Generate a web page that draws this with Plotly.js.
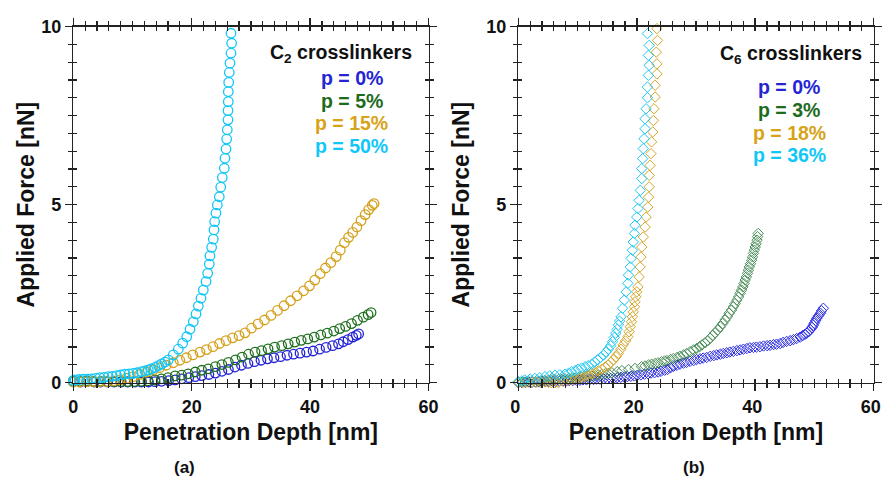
<!DOCTYPE html>
<html><head><meta charset="utf-8">
<script src="https://cdn.plot.ly/plotly-3.0.1.min.js"></script>
<style>html,body{margin:0;padding:0;background:#fff;} #chart{width:882px;height:477px;}</style>
</head><body><div id="chart"></div>
<script>
// ---------- Panel (a): C2 crosslinkers (circles) ----------
const a_labels = ["p = 0%", "p = 5%", "p = 15%", "p = 50%"];
const a_p0_x = [0,1.2,2.3,3.5,4.6,5.8,6.9,8.1,9.2,10.4,11.5,12.7,13.8,14.9,16.1,17.2,18.3,19.5,20.6,21.7,22.9,24.0,25.1,26.2,27.3,28.4,29.5,30.6,31.7,32.8,33.9,35.0,36.1,37.2,38.3,39.4,40.5,41.6,42.7,43.8,44.8,45.6,46.4,47.2,47.8,48.2];
const a_p0_y = [0.03,0.02,0.03,0.02,0.02,0.02,0.02,0.02,0.02,0.02,0.02,0.02,0.03,0.04,0.06,0.08,0.11,0.14,0.17,0.20,0.23,0.27,0.32,0.37,0.44,0.49,0.54,0.59,0.63,0.67,0.70,0.73,0.77,0.80,0.83,0.86,0.89,0.94,0.99,1.04,1.09,1.15,1.21,1.28,1.33,1.37];
const a_p5_x = [0,1.1,2.3,3.4,4.6,5.7,6.9,8.0,9.2,10.3,11.5,12.6,13.8,14.9,16.0,17.2,18.3,19.4,20.6,21.7,22.8,24.0,25.1,26.2,27.4,28.5,29.6,30.7,31.8,32.9,34.0,35.2,36.3,37.4,38.5,39.6,40.7,41.8,42.9,44.0,45.0,46.0,47.0,48.0,49.0,49.8,50.3];
const a_p5_y = [0.05,0.04,0.05,0.04,0.04,0.03,0.03,0.03,0.03,0.03,0.04,0.05,0.08,0.11,0.14,0.19,0.21,0.25,0.30,0.35,0.39,0.45,0.51,0.57,0.64,0.72,0.80,0.86,0.90,0.95,1.00,1.04,1.09,1.14,1.19,1.23,1.28,1.34,1.39,1.45,1.52,1.58,1.66,1.75,1.84,1.91,1.97];
const a_p15_x = [0,1.1,2.3,3.4,4.5,5.6,6.8,7.9,9.0,10.1,11.2,12.4,13.5,14.6,15.7,16.9,18.0,19.1,20.2,21.4,22.5,23.6,24.7,25.8,26.9,28.0,29.0,30.1,31.2,32.3,33.4,34.5,35.6,36.7,37.8,38.9,39.9,40.8,41.7,42.6,43.5,44.4,45.1,45.8,46.5,47.2,47.9,48.6,49.3,49.9,50.5,50.8];
const a_p15_y = [0.02,0.02,0.03,0.03,0.03,0.03,0.05,0.08,0.12,0.17,0.23,0.30,0.36,0.42,0.49,0.56,0.63,0.70,0.78,0.86,0.93,1.01,1.10,1.18,1.26,1.32,1.40,1.53,1.65,1.76,1.89,2.03,2.16,2.30,2.44,2.58,2.72,2.88,3.06,3.22,3.37,3.54,3.72,3.93,4.08,4.22,4.37,4.55,4.72,4.86,4.98,5.03];
const a_p50_x = [0.0,0.3,1.0,1.7,2.4,3.1,3.8,4.5,5.2,5.9,6.6,7.3,8.0,8.7,9.4,10.1,10.8,11.55,12.1,12.67,13.2,13.8,14.4,14.93,15.5,16.05,16.89,17.74,18.48,19.16,19.71,20.27,20.73,21.12,21.57,21.96,22.42,22.7,22.97,23.09,23.37,23.65,23.77,23.88,24.1,24.33,24.66,24.9,25.17,25.51,25.62,25.8,25.91,26.01,26.13,26.13,26.18,26.18,26.25,26.35,26.47,26.64,26.75,26.64];
const a_p50_y = [0.06,0.08,0.09,0.10,0.10,0.11,0.12,0.14,0.15,0.17,0.18,0.20,0.22,0.24,0.25,0.26,0.28,0.31,0.33,0.36,0.39,0.43,0.48,0.53,0.58,0.64,0.78,0.94,1.11,1.29,1.50,1.71,1.93,2.15,2.37,2.60,2.84,3.07,3.33,3.56,3.80,4.03,4.29,4.52,4.76,4.99,5.22,5.49,5.76,6.02,6.30,6.56,6.84,7.10,7.38,7.64,7.89,8.17,8.43,8.71,8.97,9.25,9.53,9.81];

// ---------- Panel (b): C6 crosslinkers (diamonds) ----------
const b_labels = ["p = 0%", "p = 3%", "p = 18%", "p = 36%"];
const b_p0_x = [0,0.6,1.2,1.8,2.3,2.9,3.5,4.0,4.6,5.2,5.8,6.3,6.9,7.5,8.1,8.6,9.2,9.8,10.4,10.9,11.5,12.1,12.7,13.2,13.8,14.4,15.0,15.6,16.1,16.7,17.3,17.9,18.4,19.0,19.6,20.1,20.7,21.3,21.9,22.4,23.0,23.6,24.1,24.7,25.2,25.7,26.2,26.8,27.3,27.9,28.4,29.0,29.6,30.1,30.7,31.2,31.8,32.4,33.0,33.5,34.1,34.6,35.2,35.7,36.3,36.9,37.45,38.0,38.6,39.1,39.7,40.2,40.8,41.4,42.0,42.5,43.1,43.6,44.2,44.7,45.3,45.9,46.45,47.0,47.6,48.0,48.4,48.7,49.0,49.3,49.6,49.8,49.95,50.2,50.4,50.7,51.0,51.2,51.5];
const b_p0_y = [0.0,0.01,0.01,0.02,0.01,0.02,0.02,0.03,0.03,0.03,0.03,0.04,0.04,0.05,0.05,0.06,0.06,0.07,0.07,0.08,0.08,0.09,0.09,0.10,0.10,0.11,0.11,0.12,0.12,0.14,0.15,0.16,0.17,0.18,0.19,0.21,0.22,0.24,0.25,0.27,0.28,0.30,0.32,0.35,0.37,0.42,0.46,0.49,0.52,0.55,0.57,0.60,0.62,0.65,0.67,0.69,0.71,0.74,0.76,0.78,0.80,0.82,0.84,0.86,0.88,0.90,0.92,0.94,0.96,0.98,0.99,1.00,1.01,1.03,1.04,1.05,1.07,1.08,1.10,1.13,1.16,1.18,1.21,1.24,1.28,1.32,1.36,1.39,1.43,1.49,1.55,1.61,1.67,1.74,1.81,1.88,1.95,2.02,2.09];
const b_p3_x = [0,0.6,1.2,1.7,2.3,2.9,3.4,4.0,4.5,5.1,5.7,6.2,6.8,7.4,7.9,8.5,9.0,9.6,10.2,10.7,11.3,11.8,12.4,13.0,13.5,14.1,14.7,15.2,15.8,16.7,17.5,18.6,19.7,20.8,21.4,22.0,22.5,23.1,23.6,24.2,24.7,25.1,25.7,26.2,26.8,27.3,27.9,28.4,29.0,29.6,30.1,30.6,31.0,31.5,32.0,32.4,32.8,33.2,33.7,34.1,34.5,34.9,35.3,35.6,36.0,36.3,36.6,36.9,37.2,37.45,37.7,37.9,38.1,38.3,38.5,38.7,38.85,39.0,39.2,39.4,39.55,39.7,39.85,40.0,40.15,40.3,40.4,40.5];
const b_p3_y = [0.0,0.01,0.02,0.02,0.03,0.03,0.04,0.05,0.06,0.07,0.08,0.08,0.09,0.10,0.11,0.11,0.12,0.13,0.15,0.16,0.17,0.18,0.19,0.20,0.22,0.23,0.25,0.26,0.28,0.31,0.34,0.37,0.40,0.45,0.47,0.50,0.52,0.54,0.56,0.59,0.61,0.62,0.65,0.68,0.71,0.74,0.78,0.82,0.87,0.92,0.96,1.01,1.06,1.12,1.18,1.25,1.32,1.40,1.48,1.57,1.66,1.76,1.85,1.95,2.04,2.13,2.22,2.32,2.41,2.51,2.60,2.69,2.78,2.88,2.97,3.07,3.16,3.25,3.34,3.44,3.53,3.63,3.72,3.81,3.90,4.00,4.10,4.19];
const b_p18_x = [0,0.8,1.5,2.3,3.0,3.8,4.5,5.1,5.6,6.2,6.76,7.6,8.45,9.0,9.6,10.2,10.7,11.3,11.8,12.4,12.96,13.5,14.1,14.7,15.2,15.6,16.05,16.5,16.9,17.3,17.7,18.1,18.5,18.7,18.9,19.1,19.26,19.4,19.6,19.7,19.83,20.0,20.2,20.4,20.56,20.7,20.84,21.1,21.4,21.57,21.86,22.0,22.1,22.1,22.25,22.4,22.5,22.7,22.8,22.9,23.1,23.1,23.4,23.4,23.3,23.5,23.4];
const b_p18_y = [0.0,0.01,0.02,0.02,0.01,0.01,0.02,0.01,0.0,0.0,0.0,0.03,0.06,0.08,0.10,0.12,0.15,0.18,0.22,0.25,0.28,0.33,0.38,0.44,0.50,0.57,0.64,0.73,0.82,0.94,1.06,1.17,1.29,1.43,1.57,1.71,1.85,1.99,2.13,2.27,2.41,2.55,2.69,2.97,3.25,3.53,3.81,4.09,4.37,4.65,4.93,5.21,5.50,5.82,6.10,6.43,6.76,7.04,7.36,7.69,8.02,8.35,8.67,8.95,9.28,9.61,9.94];
const b_p36_x = [0,0.6,1.1,2.0,2.8,3.6,4.5,5.3,6.2,7.0,7.9,8.5,9.0,9.6,10.1,10.7,11.3,11.8,12.4,12.9,13.4,13.9,14.4,14.8,15.2,15.6,15.9,16.2,16.45,16.7,16.9,17.1,17.35,17.6,17.9,18.2,18.5,18.6,18.9,19.04,19.26,19.4,19.6,19.7,20.0,20.2,20.4,20.6,20.84,20.84,21.0,21.1,21.23,21.4,21.4,21.57,21.8,21.8,21.96,22.1,21.96,22.1,21.8];
const b_p36_y = [0.03,0.05,0.08,0.10,0.12,0.14,0.17,0.19,0.21,0.22,0.24,0.27,0.31,0.34,0.38,0.41,0.45,0.48,0.52,0.58,0.64,0.71,0.78,0.86,0.94,1.04,1.15,1.27,1.39,1.50,1.62,1.73,1.85,2.09,2.32,2.55,2.79,3.02,3.25,3.49,3.72,3.95,4.19,4.42,4.65,4.89,5.12,5.40,5.73,6.01,6.29,6.57,6.85,7.13,7.41,7.69,8.00,8.30,8.63,8.91,9.19,9.47,9.80];

const colA = ["#2323d6", "#1f6f1f", "#d4a11c", "#12c6f7"];
const colB = ["#2a2ae6", "#2a7a3c", "#d4a62a", "#1cc8f5"];
const textCol = ["#2424d4", "#1d6b1d", "#d7a318", "#10c8f8"];

const FONT = "Liberation Sans, Arial, sans-serif";
const axisCol = "#222";

const aSeries = [[a_p0_x,a_p0_y],[a_p5_x,a_p5_y],[a_p15_x,a_p15_y],[a_p50_x,a_p50_y]];
const bSeries = [[b_p0_x,b_p0_y],[b_p3_x,b_p3_y],[b_p18_x,b_p18_y],[b_p36_x,b_p36_y]];

const traces = [];
aSeries.forEach((s, i) => traces.push({
  type: "scatter", mode: "markers", x: s[0], y: s[1], name: a_labels[i],
  xaxis: "x", yaxis: "y", cliponaxis: false, showlegend: false,
  marker: {symbol: "circle-open", size: 9.5, color: colA[i], line: {width: 1.3, color: colA[i]}}
}));
bSeries.forEach((s, i) => traces.push({
  type: "scatter", mode: "markers", x: s[0], y: s[1], name: b_labels[i],
  xaxis: "x2", yaxis: "y2", cliponaxis: false, showlegend: false, opacity: i === 1 ? 0.85 : 1,
  marker: {symbol: "diamond-open", size: 8, color: colB[i], line: {width: 1.0, color: colB[i]}}
}));
// empty traces to activate the inner-tick subplots (same domains as the panels)
traces.push({type: "scatter", mode: "markers", x: [], y: [], xaxis: "x3", yaxis: "y3", showlegend: false, hoverinfo: "skip"});
traces.push({type: "scatter", mode: "markers", x: [], y: [], xaxis: "x4", yaxis: "y4", showlegend: false, hoverinfo: "skip"});

const tickFont = {family: FONT, size: 18, color: "#111", weight: "bold"};
const titleFont = {family: FONT, size: 23, color: "#111", weight: "bold"};

function mainX(domain, anchor, shift) {
  return {domain, anchor, range: [0, 60], tick0: 0, dtick: 20, ticks: "outside", ticklen: 7, tickwidth: 1.5,
    tickcolor: axisCol, showline: true, linewidth: 1.5, linecolor: axisCol, mirror: "ticks",
    showgrid: false, zeroline: false, tickfont: tickFont, fixedrange: true, ticklabeloverflow: "allow",
    ticklabelshift: shift || 0,
    minor: {tick0: 0, dtick: 2, ticks: "outside", ticklen: 4, tickwidth: 1.2, tickcolor: axisCol, showgrid: false},
    title: {text: "Penetration Depth [nm]", font: titleFont, standoff: 8}};
}
function mainY(domain, anchor, standoff) {
  return {domain, anchor, range: [0, 10], tick0: 0, dtick: 5, ticks: "outside", ticklen: 7, tickwidth: 1.5,
    tickcolor: axisCol, showline: true, linewidth: 1.5, linecolor: axisCol, mirror: "ticks",
    showgrid: false, zeroline: false, tickfont: tickFont, fixedrange: true, ticklabeloverflow: "allow",
    minor: {tick0: 0, dtick: 0.5, ticks: "outside", ticklen: 4, tickwidth: 1.2, tickcolor: axisCol, showgrid: false},
    title: {text: "Applied Force [nN]", font: titleFont, standoff: standoff}};
}
function innerX(domain, anchor) {
  return {domain, anchor, range: [0, 60], tick0: 0, dtick: 20, ticks: "inside", ticklen: 4, tickwidth: 1.5,
    tickcolor: axisCol, showline: false, mirror: "ticks", showgrid: false, zeroline: false, showticklabels: false, fixedrange: true,
    minor: {tick0: 0, dtick: 2, ticks: "inside", ticklen: 4, tickwidth: 1.2, tickcolor: axisCol, showgrid: false}};
}
function innerY(domain, anchor) {
  return {domain, anchor, range: [0, 10], tick0: 0, dtick: 5, ticks: "inside", ticklen: 4, tickwidth: 1.5,
    tickcolor: axisCol, showline: false, mirror: "ticks", showgrid: false, zeroline: false, showticklabels: false, fixedrange: true,
    minor: {tick0: 0, dtick: 0.5, ticks: "inside", ticklen: 4, tickwidth: 1.2, tickcolor: axisCol, showgrid: false}};
}

const W = 882, H = 477;
const yDom = [1 - 382.7 / H, 1 - 26.5 / H];
const xDomA = [73.3 / W, 428.5 / W];
const xDomB = [518.3 / W, 873.7 / W];

function ann(text, px, py, color, size, xanchor) {
  return {text, x: px / W, y: 1 - py / H, xref: "paper", yref: "paper", xanchor: xanchor || "center", yanchor: "middle",
    showarrow: false, font: {family: FONT, size: size, color: color, weight: "bold"}};
}

const annotations = [
  ann("C<sub>2</sub> crosslinkers", 414, 53, "#111", 19.5, "right"),
  ann(a_labels[0], 351.5, 78, textCol[0], 19.5),
  ann(a_labels[1], 351.5, 101, textCol[1], 19.5),
  ann(a_labels[2], 351.5, 123, textCol[2], 19.5),
  ann(a_labels[3], 351.5, 146, textCol[3], 19.5),
  ann("C<sub>6</sub> crosslinkers", 864, 54.5, "#111", 19.5, "right"),
  ann(b_labels[0], 789, 87.3, textCol[0], 19.5),
  ann(b_labels[1], 789, 110, textCol[1], 19.5),
  ann(b_labels[2], 789, 132.7, textCol[2], 19.5),
  ann(b_labels[3], 789, 155, textCol[3], 19.5),
  ann("(a)", 184, 467.5, "#111", 17),
  ann("(b)", 693.5, 467.5, "#111", 17)
];

const layout = {
  width: W, height: H, margin: {l: 0, r: 0, t: 0, b: 0}, paper_bgcolor: "#fff", plot_bgcolor: "rgba(0,0,0,0)",
  showlegend: false, font: {family: FONT},
  xaxis: mainX(xDomA, "y", 0), yaxis: mainY(yDom, "x", 0),
  xaxis2: mainX(xDomB, "y2", -3), yaxis2: mainY(yDom, "x2", 10),
  xaxis3: innerX(xDomA, "y3"), yaxis3: innerY(yDom, "x3"),
  xaxis4: innerX(xDomB, "y4"), yaxis4: innerY(yDom, "x4"),
  annotations
};

Plotly.newPlot("chart", traces, layout, {staticPlot: true, displayModeBar: false});
</script></body></html>
